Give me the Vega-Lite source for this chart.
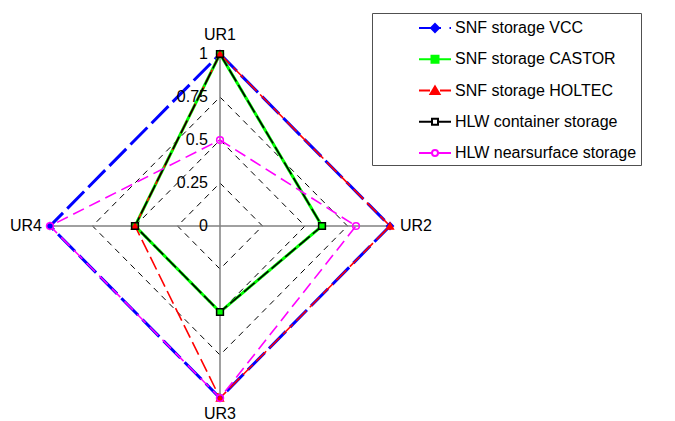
{
  "$schema": "https://vega.github.io/schema/vega-lite/v6.json",
  "width": 340,
  "height": 344,
  "autosize": {"type": "none"},
  "padding": {"left": 50, "top": 54, "right": 285, "bottom": 23},
  "background": "white",
  "config": {
    "view": {"stroke": null},
    "font": "Liberation Sans",
    "text": {"font": "Liberation Sans", "fontSize": 16, "color": "black"}
  },
  "datasets": {
    "scores": [
      {"series": "SNF storage VCC", "axis": "UR1", "value": 1},
      {"series": "SNF storage VCC", "axis": "UR2", "value": 1},
      {"series": "SNF storage VCC", "axis": "UR3", "value": 1},
      {"series": "SNF storage VCC", "axis": "UR4", "value": 1},
      {"series": "SNF storage CASTOR", "axis": "UR1", "value": 1},
      {"series": "SNF storage CASTOR", "axis": "UR2", "value": 0.6},
      {"series": "SNF storage CASTOR", "axis": "UR3", "value": 0.5},
      {"series": "SNF storage CASTOR", "axis": "UR4", "value": 0.5},
      {"series": "SNF storage HOLTEC", "axis": "UR1", "value": 1},
      {"series": "SNF storage HOLTEC", "axis": "UR2", "value": 1},
      {"series": "SNF storage HOLTEC", "axis": "UR3", "value": 1},
      {"series": "SNF storage HOLTEC", "axis": "UR4", "value": 0.5},
      {"series": "HLW container storage", "axis": "UR1", "value": 1},
      {"series": "HLW container storage", "axis": "UR2", "value": 0.6},
      {"series": "HLW container storage", "axis": "UR3", "value": 0.5},
      {"series": "HLW container storage", "axis": "UR4", "value": 0.5},
      {"series": "HLW nearsurface storage", "axis": "UR1", "value": 0.5},
      {"series": "HLW nearsurface storage", "axis": "UR2", "value": 0.8},
      {"series": "HLW nearsurface storage", "axis": "UR3", "value": 1},
      {"series": "HLW nearsurface storage", "axis": "UR4", "value": 1}
    ],
    "grid": [
      {"level": 0.25, "axis": "UR1"}, {"level": 0.25, "axis": "UR2"}, {"level": 0.25, "axis": "UR3"}, {"level": 0.25, "axis": "UR4"},
      {"level": 0.5, "axis": "UR1"}, {"level": 0.5, "axis": "UR2"}, {"level": 0.5, "axis": "UR3"}, {"level": 0.5, "axis": "UR4"},
      {"level": 0.75, "axis": "UR1"}, {"level": 0.75, "axis": "UR2"}, {"level": 0.75, "axis": "UR3"}, {"level": 0.75, "axis": "UR4"}
    ],
    "axes": [
      {"axis": "UR1", "level": 1}, {"axis": "UR2", "level": 1}, {"axis": "UR3", "level": 1}, {"axis": "UR4", "level": 1}
    ],
    "ticks": [
      {"level": 0}, {"level": 0.25}, {"level": 0.5}, {"level": 0.75}, {"level": 1}
    ]
  },
  "resolve": {"scale": {"shape": "independent", "fill": "independent", "stroke": "independent"}},
  "layer": [
    {
      "data": {"name": "grid"},
      "transform": [
        {"calculate": "datum.axis === 'UR2' ? datum.level : datum.axis === 'UR4' ? -datum.level : 0", "as": "x"},
        {"calculate": "datum.axis === 'UR1' ? datum.level : datum.axis === 'UR3' ? -datum.level : 0", "as": "y"}
      ],
      "mark": {"type": "line", "interpolate": "linear-closed", "stroke": "black", "strokeWidth": 1, "strokeDash": [6, 5]},
      "encoding": {
        "x": {"field": "x", "type": "quantitative", "scale": {"domain": [-1, 1], "nice": false, "zero": false}, "axis": null},
        "y": {"field": "y", "type": "quantitative", "scale": {"domain": [-1, 1], "nice": false, "zero": false}, "axis": null},
        "detail": {"field": "level", "type": "nominal"},
        "order": {"field": "axis", "type": "ordinal"}
      }
    },
    {
      "data": {"name": "axes"},
      "transform": [
        {"calculate": "datum.axis === 'UR2' ? datum.level : datum.axis === 'UR4' ? -datum.level : 0", "as": "x"},
        {"calculate": "datum.axis === 'UR1' ? datum.level : datum.axis === 'UR3' ? -datum.level : 0", "as": "y"}
      ],
      "mark": {"type": "rule", "stroke": "#808080", "strokeWidth": 1.5},
      "encoding": {
        "x": {"field": "x", "type": "quantitative"},
        "y": {"field": "y", "type": "quantitative"},
        "x2": {"datum": 0},
        "y2": {"datum": 0}
      }
    },
    {
      "data": {"name": "scores"},
      "transform": [
        {"calculate": "datum.axis === 'UR2' ? datum.value : datum.axis === 'UR4' ? -datum.value : 0", "as": "x"},
        {"calculate": "datum.axis === 'UR1' ? datum.value : datum.axis === 'UR3' ? -datum.value : 0", "as": "y"}
      ],
      "mark": {"type": "line", "interpolate": "linear-closed"},
      "encoding": {
        "x": {"field": "x", "type": "quantitative"},
        "y": {"field": "y", "type": "quantitative"},
        "order": {"field": "axis", "type": "ordinal"},
        "color": {
          "field": "series",
          "type": "nominal",
          "scale": {
            "domain": ["SNF storage VCC", "SNF storage CASTOR", "SNF storage HOLTEC", "HLW container storage", "HLW nearsurface storage"],
            "range": ["#0000ff", "#00ff00", "#ff0000", "#000000", "#ff00ff"]
          },
          "legend": null
        },
        "strokeDash": {
          "field": "series",
          "type": "nominal",
          "scale": {
            "domain": ["SNF storage VCC", "SNF storage CASTOR", "SNF storage HOLTEC", "HLW container storage", "HLW nearsurface storage"],
            "range": [[24, 6], [1, 0], [14, 5], [14, 4], [12, 6]]
          },
          "legend": null
        },
        "strokeWidth": {
          "condition": {"test": "datum.series === 'SNF storage VCC' || datum.series === 'SNF storage CASTOR'", "value": 3},
          "value": 1.6
        }
      }
    },
    {
      "data": {"name": "scores"},
      "transform": [
        {"calculate": "datum.axis === 'UR2' ? datum.value : datum.axis === 'UR4' ? -datum.value : 0", "as": "x"},
        {"calculate": "datum.axis === 'UR1' ? datum.value : datum.axis === 'UR3' ? -datum.value : 0", "as": "y"}
      ],
      "mark": {"type": "point", "filled": true, "strokeWidth": 1.5, "opacity": 1, "size": 45},
      "encoding": {
        "x": {"field": "x", "type": "quantitative"},
        "y": {"field": "y", "type": "quantitative"},
        "shape": {
          "field": "series",
          "type": "nominal",
          "scale": {
            "domain": ["SNF storage VCC", "SNF storage CASTOR", "SNF storage HOLTEC", "HLW container storage", "HLW nearsurface storage"],
            "range": ["diamond", "square", "triangle-up", "square", "circle"]
          },
          "legend": null
        },
        "fill": {
          "field": "series",
          "type": "nominal",
          "scale": {
            "domain": ["SNF storage VCC", "SNF storage CASTOR", "SNF storage HOLTEC", "HLW container storage", "HLW nearsurface storage"],
            "range": ["#0000ff", "#00ff00", "#ff0000", "transparent", "transparent"]
          },
          "legend": null
        },
        "stroke": {
          "field": "series",
          "type": "nominal",
          "scale": {
            "domain": ["SNF storage VCC", "SNF storage CASTOR", "SNF storage HOLTEC", "HLW container storage", "HLW nearsurface storage"],
            "range": ["#0000ff", "#00ff00", "#ff0000", "#000000", "#ff00ff"]
          },
          "legend": null
        }
      }
    },
    {
      "data": {"name": "scores"},
      "transform": [{"filter": "datum.value > 1"}],
      "mark": {"type": "point", "filled": true, "strokeWidth": 2, "opacity": 1},
      "encoding": {
        "shape": {
          "field": "series",
          "type": "nominal",
          "scale": {
            "domain": ["SNF storage VCC", "SNF storage CASTOR", "SNF storage HOLTEC", "HLW container storage", "HLW nearsurface storage"],
            "range": [
              "M-1.6,0H0.6M1.45,0H1.6M0,-0.4L0.4,0L0,0.4L-0.4,0Z",
              "M-1.6,0H1.6M-0.35,-0.35H0.35V0.35H-0.35Z",
              "M-1.6,0H-0.5M0.5,0H1.6M0,-0.4L0.45,0.35H-0.45Z",
              "M-1.6,0H-0.35M0.35,0H1.6M-0.3,-0.3H0.3V0.3H-0.3Z",
              "M-1.6,0H-0.35M0.35,0H1.6M0.3,0A0.3,0.3,0,1,1,-0.3,0A0.3,0.3,0,1,1,0.3,0Z"
            ]
          },
          "legend": {
            "orient": "none", "legendX": 322, "legendY": -41, "title": null,
            "labelFont": "Liberation Sans", "labelFontSize": 16, "labelColor": "black", "labelLimit": 0,
            "strokeColor": "#505050", "fillColor": "white", "padding": 4, "rowPadding": 12.25,
            "symbolSize": 400, "symbolStrokeWidth": 2, "labelOffset": 9, "symbolOffset": 48
          }
        },
        "fill": {
          "field": "series",
          "type": "nominal",
          "scale": {
            "domain": ["SNF storage VCC", "SNF storage CASTOR", "SNF storage HOLTEC", "HLW container storage", "HLW nearsurface storage"],
            "range": ["#0000ff", "#00ff00", "#ff0000", "white", "white"]
          },
          "legend": {
            "orient": "none", "legendX": 322, "legendY": -41, "title": null,
            "labelFont": "Liberation Sans", "labelFontSize": 16, "labelColor": "black", "labelLimit": 0,
            "strokeColor": "#505050", "fillColor": "white", "padding": 4, "rowPadding": 12.25,
            "symbolSize": 400, "symbolStrokeWidth": 2, "labelOffset": 9, "symbolOffset": 48
          }
        },
        "stroke": {
          "field": "series",
          "type": "nominal",
          "scale": {
            "domain": ["SNF storage VCC", "SNF storage CASTOR", "SNF storage HOLTEC", "HLW container storage", "HLW nearsurface storage"],
            "range": ["#0000ff", "#00ff00", "#ff0000", "#000000", "#ff00ff"]
          },
          "legend": {
            "orient": "none", "legendX": 322, "legendY": -41, "title": null,
            "labelFont": "Liberation Sans", "labelFontSize": 16, "labelColor": "black", "labelLimit": 0,
            "strokeColor": "#505050", "fillColor": "white", "padding": 4, "rowPadding": 12.25,
            "symbolSize": 400, "symbolStrokeWidth": 2, "labelOffset": 9, "symbolOffset": 48
          }
        }
      }
    },
    {
      "data": {"name": "ticks"},
      "mark": {"type": "text", "align": "right", "baseline": "middle", "dx": -12},
      "encoding": {
        "x": {"datum": 0, "type": "quantitative"},
        "y": {"field": "level", "type": "quantitative"},
        "text": {"field": "level", "type": "quantitative", "format": "~g"}
      }
    },
    {
      "data": {"name": "axes"},
      "transform": [{"filter": "datum.axis === 'UR1'"}],
      "mark": {"type": "text", "align": "center", "baseline": "middle", "dy": -19},
      "encoding": {
        "x": {"datum": 0, "type": "quantitative"},
        "y": {"field": "level", "type": "quantitative"},
        "text": {"field": "axis", "type": "nominal"}
      }
    },
    {
      "data": {"name": "axes"},
      "transform": [{"filter": "datum.axis === 'UR2'"}],
      "mark": {"type": "text", "align": "left", "baseline": "middle", "dx": 10},
      "encoding": {
        "x": {"field": "level", "type": "quantitative"},
        "y": {"datum": 0, "type": "quantitative"},
        "text": {"field": "axis", "type": "nominal"}
      }
    },
    {
      "data": {"name": "axes"},
      "transform": [{"filter": "datum.axis === 'UR3'"}],
      "mark": {"type": "text", "align": "center", "baseline": "middle", "dy": 16},
      "encoding": {
        "x": {"datum": 0, "type": "quantitative"},
        "y": {"datum": -1, "type": "quantitative"},
        "text": {"field": "axis", "type": "nominal"}
      }
    },
    {
      "data": {"name": "axes"},
      "transform": [{"filter": "datum.axis === 'UR4'"}],
      "mark": {"type": "text", "align": "right", "baseline": "middle", "dx": -8},
      "encoding": {
        "x": {"datum": -1, "type": "quantitative"},
        "y": {"datum": 0, "type": "quantitative"},
        "text": {"field": "axis", "type": "nominal"}
      }
    }
  ]
}
